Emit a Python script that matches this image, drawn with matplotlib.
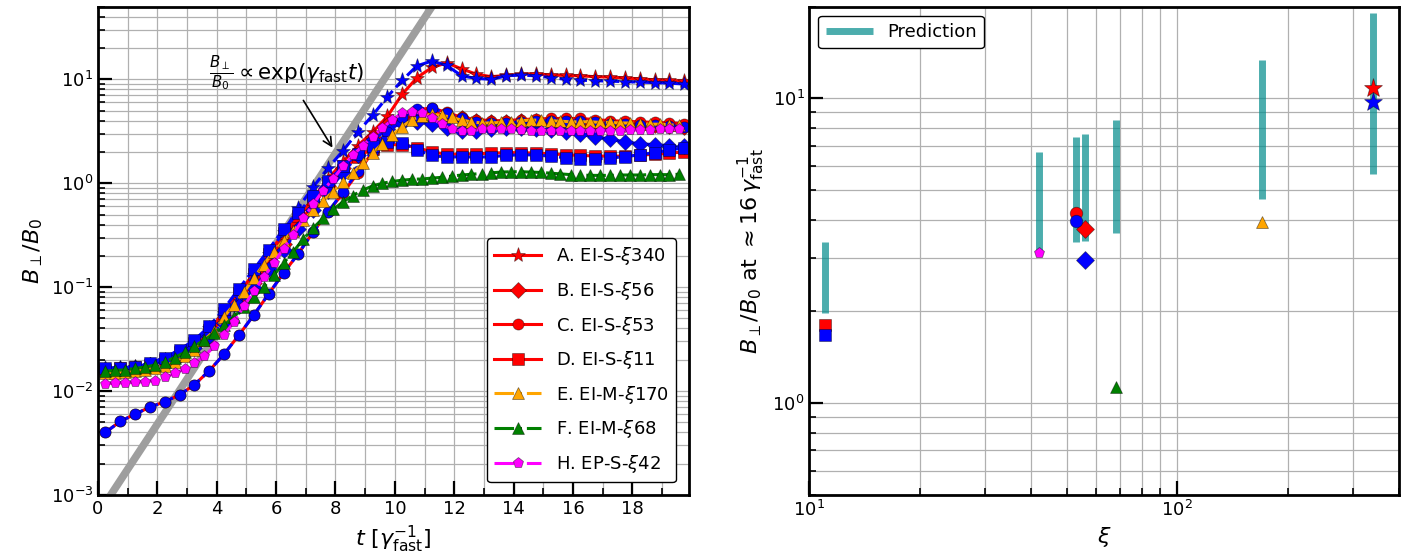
import matplotlib
matplotlib.use("Agg")
import matplotlib.pyplot as plt
from matplotlib.ticker import MultipleLocator, NullFormatter

# time grid of the A-D runs (red = solid, blue = dashed)
t_ad = [0.25, 0.75, 1.25, 1.75, 2.25, 2.75, 3.25, 3.75, 4.25, 4.75,
        5.25, 5.75, 6.25, 6.75, 7.25, 7.75, 8.25, 8.75, 9.25, 9.75,
        10.25, 10.75, 11.25, 11.75, 12.25, 12.75, 13.25, 13.75, 14.25, 14.75,
        15.25, 15.75, 16.25, 16.75, 17.25, 17.75, 18.25, 18.75, 19.25, 19.75]

A_red = [.016, .0165, .017, .018, .020, .023, .028, .038, .052, .075,
         .115, .18, .29, .46, .72, 1.1, 1.6, 2.3, 3.1, 4.4,
         7.2, 10.4, 13.0, 14.4, 12.6, 11.2, 10.6, 10.9, 11.2, 11.3,
         11.0, 10.9, 10.8, 10.6, 10.5, 10.3, 10.1, 9.9, 9.8, 9.6]
A_blue = [.0165, .0168, .017, .018, .020, .023, .029, .040, .056, .080,
          .13, .21, .34, .58, .92, 1.4, 2.05, 3.1, 4.5, 6.8,
          9.8, 13.5, 15.0, 13.6, 10.8, 10.2, 10.0, 10.8, 11.0, 10.8,
          10.4, 10.0, 9.8, 9.7, 9.6, 9.5, 9.4, 9.3, 9.2, 9.0]
B_red = [.016, .0163, .0168, .0178, .0195, .022, .027, .036, .051, .075,
         .11, .17, .26, .41, .62, .95, 1.4, 2.0, 2.8, 3.6,
         4.2, 4.6, 4.7, 4.5, 4.2, 3.95, 3.85, 3.9, 4.0, 4.0,
         3.95, 3.9, 3.8, 3.75, 3.7, 3.7, 3.65, 3.6, 3.55, 3.5]
B_blue = [.016, .0163, .0168, .0178, .0195, .022, .026, .034, .045, .066,
          .098, .15, .23, .36, .55, .85, 1.25, 1.85, 2.6, 3.3,
          3.8, 3.9, 3.7, 3.4, 3.2, 3.2, 3.3, 3.4, 3.4, 3.35,
          3.25, 3.1, 2.95, 2.8, 2.65, 2.5, 2.4, 2.35, 2.3, 2.3]
C_red = [.0040, .0051, .0060, .0070, .0079, .0092, .0115, .0157, .0227, .0346,
         .054, .086, .137, .21, .34, .53, .80, 1.25, 2.0, 3.0,
         4.2, 5.1, 5.3, 4.8, 4.3, 4.1, 4.0, 4.0, 4.1, 4.15,
         4.2, 4.2, 4.2, 4.1, 4.0, 3.95, 3.9, 3.85, 3.8, 3.75]
C_blue = [.0040, .0051, .0060, .0070, .0079, .0092, .0115, .0157, .0227, .0346,
          .054, .086, .137, .21, .34, .53, .82, 1.3, 2.05, 3.1,
          4.3, 5.2, 5.3, 4.7, 4.2, 3.9, 3.8, 3.8, 3.9, 3.95,
          4.0, 4.0, 3.95, 3.85, 3.75, 3.7, 3.65, 3.6, 3.55, 3.5]
D_red = [.016, .0165, .017, .018, .020, .024, .029, .039, .057, .088,
         .135, .21, .33, .48, .70, .98, 1.35, 1.8, 2.15, 2.35,
         2.35, 2.2, 2.0, 1.9, 1.9, 1.92, 1.95, 1.97, 1.97, 1.95,
         1.92, 1.88, 1.85, 1.83, 1.82, 1.83, 1.86, 1.9, 1.95, 2.0]
D_blue = [.0165, .0168, .017, .0185, .021, .025, .031, .042, .062, .097,
          .148, .23, .36, .52, .76, 1.05, 1.45, 1.9, 2.3, 2.5,
          2.45, 2.1, 1.85, 1.78, 1.8, 1.78, 1.8, 1.85, 1.88, 1.87,
          1.82, 1.76, 1.72, 1.72, 1.75, 1.8, 1.88, 1.97, 2.08, 2.2]

# time grid of the E, F, H runs (denser output)
t_efh = [0.25, 0.58, 0.92, 1.25, 1.58, 1.92, 2.25, 2.58, 2.92, 3.25,
         3.58, 3.92, 4.25, 4.58, 4.92, 5.25, 5.58, 5.92, 6.25, 6.58,
         6.92, 7.25, 7.58, 7.92, 8.25, 8.58, 8.92, 9.25, 9.58, 9.92,
         10.25, 10.58, 10.92, 11.25, 11.58, 11.92, 12.25, 12.58, 12.92, 13.25,
         13.58, 13.92, 14.25, 14.58, 14.92, 15.25, 15.58, 15.92, 16.25, 16.58,
         16.92, 17.25, 17.58, 17.92, 18.25, 18.58, 18.92, 19.25, 19.58]

E_vals = [.0150, .0150, .0152, .0155, .016, .0165, .0175, .019, .0215, .025,
          .031, .038, .052, .068, .090, .122, .165, .22, .28, .35,
          .44, .55, .68, .83, 1.02, 1.25, 1.55, 1.95, 2.4, 2.9,
          3.5, 4.1, 4.45, 4.6, 4.5, 4.3, 4.05, 3.9, 3.8, 3.8,
          3.85, 3.9, 4.0, 4.05, 4.05, 4.0, 3.95, 3.9, 3.9, 3.9,
          3.85, 3.85, 3.8, 3.8, 3.75, 3.7, 3.7, 3.65, 3.6]
F_vals = [.0155, .0158, .016, .0165, .017, .0178, .019, .021, .0235, .027,
          .031, .036, .043, .052, .064, .08, .10, .13, .17, .22,
          .29, .37, .46, .56, .66, .76, .86, .94, 1.0, 1.04,
          1.07, 1.09, 1.1, 1.12, 1.14, 1.17, 1.2, 1.22, 1.24, 1.26,
          1.28, 1.29, 1.29, 1.28, 1.27, 1.25, 1.23, 1.21, 1.2, 1.19,
          1.19, 1.19, 1.2, 1.2, 1.2, 1.21, 1.21, 1.21, 1.22]
H_vals = [.0118, .0119, .0120, .0121, .0123, .0126, .0135, .0148, .0163, .0185,
          .0215, .027, .035, .046, .066, .091, .124, .17, .235, .32,
          .46, .63, .85, 1.1, 1.45, 1.85, 2.3, 2.8, 3.4, 4.1,
          4.7, 4.9, 4.7, 4.2, 3.7, 3.3, 3.15, 3.2, 3.3, 3.35,
          3.35, 3.3, 3.25, 3.2, 3.2, 3.2, 3.2, 3.15, 3.15, 3.15,
          3.2, 3.2, 3.2, 3.25, 3.25, 3.25, 3.3, 3.3, 3.3]

# exp(gamma_fast t) guide line (end points)
guide_t = [0.0, 12.0]
guide_v = [6.5e-4, 106.0]

# right panel: saturation level vs xi
xi_pred = [11, 42, 53, 56, 68, 170, 340]
pred_lo = [1.98, 3.12, 3.37, 3.40, 3.61, 4.68, 5.66]
pred_hi = [3.37, 6.67, 7.47, 7.66, 8.47, 13.4, 19.0]

xi_red = [340, 56, 53, 11]
sat_red = [10.8, 3.74, 4.20, 1.80]
xi_blue = [340, 56, 53, 11]
sat_blue = [9.7, 2.94, 3.96, 1.67]
xi_E, sat_E = 170, 3.92
xi_F, sat_F = 68, 1.13
xi_H, sat_H = 42, 3.12

labels = [r'A. EI-S-$\xi$340', r'B. EI-S-$\xi$56', r'C. EI-S-$\xi$53',
          r'D. EI-S-$\xi$11', r'E. EI-M-$\xi$170', r'F. EI-M-$\xi$68',
          r'H. EP-S-$\xi$42']
ad_markers = ['*', 'D', 'o', 's']
ad_sizes = [11, 8, 8, 8]
edge = (0, 0, 0, 0.45)

plt.rcParams['font.family'] = 'DejaVu Sans'
plt.rcParams['mathtext.fontset'] = 'dejavusans'

fig = plt.figure(figsize=(14.2, 5.58), dpi=100)
ax1 = fig.add_axes([0.069, 0.113, 0.416, 0.875])
ax2 = fig.add_axes([0.570, 0.113, 0.415, 0.875])
ax2.set_xscale('log')

for ax in (ax1, ax2):
    ax.set_yscale('log')
    ax.grid(True, which='both', color='#b0b0b0', lw=0.9)
    ax.set_axisbelow(True)
    ax.tick_params(which='both', direction='in', top=False, right=False,
                   labelsize=13)
    ax.tick_params(which='major', length=10, width=1.6)
    ax.tick_params(which='minor', length=5, width=1.2)
    for s in ax.spines.values():
        s.set_linewidth(2)

# ---- left ----
ax1.plot(guide_t, guide_v, color='#9e9e9e', lw=5.5, zorder=1.5)

reds = [A_red, B_red, C_red, D_red]
blues = [A_blue, B_blue, C_blue, D_blue]
handles = []
for i in range(4):
    h, = ax1.plot(t_ad, reds[i], '-', color='red', lw=2.2, marker=ad_markers[i],
                  ms=ad_sizes[i], mec=edge, mew=0.6, label=labels[i])
    handles.append(h)
for i in range(4):
    ax1.plot(t_ad, blues[i], '--', color='blue', lw=2.2, marker=ad_markers[i],
             ms=ad_sizes[i], mec=edge, mew=0.6)

for vals, col, mk, lab in [(E_vals, 'orange', '^', labels[4]),
                           (F_vals, 'green', '^', labels[5]),
                           (H_vals, 'magenta', 'p', labels[6])]:
    h, = ax1.plot(t_efh, vals, '-.', color=col, lw=2.2, marker=mk, ms=8,
                  mec=edge, mew=0.6, label=lab)
    handles.append(h)

ax1.annotate(r'$\frac{B_\perp}{B_0}\propto\exp(\gamma_{\rm fast}t)$',
             xy=(7.9, 2.2), xytext=(6.35, 11.5), ha='center', va='center',
             fontsize=15.5,
             arrowprops=dict(arrowstyle='->', color='black', lw=1.2,
                             shrinkA=4, shrinkB=0))

ax1.set_xlim(0, 19.9)
ax1.set_ylim(1e-3, 50)
ax1.xaxis.set_major_locator(MultipleLocator(2))
ax1.xaxis.set_minor_locator(MultipleLocator(1))
ax1.set_xlabel(r'$t$ [$\gamma_{\rm fast}^{-1}$]', fontsize=16)
ax1.set_ylabel(r'$B_\perp/B_0$', fontsize=16)
ax1.legend(handles=handles, loc='lower right', fontsize=13, labelspacing=0.7,
           handlelength=2.6, framealpha=1, edgecolor='black', borderaxespad=0.7)

# ---- right ----
ax2.vlines(xi_pred, pred_lo, pred_hi, color='darkcyan', alpha=0.7, lw=5,
           label='Prediction')
for x, y, mk, ms in zip(xi_red, sat_red, ad_markers, [14, 9, 9, 8]):
    ax2.plot(x, y, mk, color='red', ms=ms, mec=edge, mew=0.6)
for x, y, mk, ms in zip(xi_blue, sat_blue, ad_markers, [14, 9, 9, 8]):
    ax2.plot(x, y, mk, color='blue', ms=ms, mec=edge, mew=0.6)
ax2.plot(xi_E, sat_E, '^', color='orange', ms=8, mec=edge, mew=0.6)
ax2.plot(xi_F, sat_F, '^', color='green', ms=8, mec=edge, mew=0.6)
ax2.plot(xi_H, sat_H, 'p', color='magenta', ms=8, mec=edge, mew=0.6)

ax2.set_xlim(10, 400)
ax2.set_ylim(0.5, 20)
ax2.xaxis.set_minor_formatter(NullFormatter())
ax2.yaxis.set_minor_formatter(NullFormatter())
ax2.set_xlabel(r'$\xi$', fontsize=16)
ax2.set_ylabel(r'$B_\perp/B_0$ at $\approx 16\,\gamma_{\rm fast}^{-1}$', fontsize=16)
ax2.legend(loc='upper left', fontsize=13, framealpha=1, edgecolor='black',
           handlelength=2.6)

fig.savefig('out.png', dpi=100)
